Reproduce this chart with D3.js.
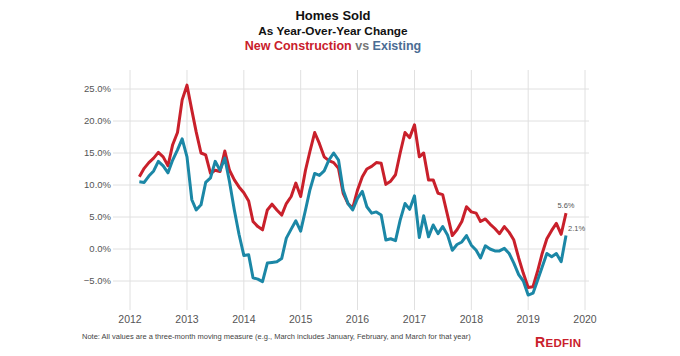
<!DOCTYPE html>
<html>
<head>
<meta charset="utf-8">
<script src="https://cdn.jsdelivr.net/npm/d3@7"></script>
<style>
  html, body { margin: 0; padding: 0; background: #fff; }
  svg { display: block; font-family: "Liberation Sans", Arial, sans-serif; }
</style>
</head>
<body>
<svg id="chart" width="680" height="356"></svg>
<script>
// ---- Data (3-month moving YoY change, %), monthly from Mar 2012 to Sep 2019 ----
const startYear = 2012, startMonth = 2; // March 2012 (0-based month)
const newConstruction = [
  11.3, 12.6, 13.5, 14.2, 15.1, 14.4, 13.0, 16.3, 18.2, 23.3,
  25.6, 21.7, 18.3, 15.0, 14.7, 11.8, 12.3, 12.1, 15.3, 12.3,
  10.8, 9.7, 8.8, 7.5, 4.3, 3.5, 3.0, 6.1, 7.0, 6.1,
  5.3, 7.1, 8.2, 10.3, 8.2, 12.3, 15.2, 18.2, 16.5, 14.4,
  13.8, 13.5, 12.6, 8.7, 7.1, 6.4, 9.2, 11.3, 12.5, 12.9,
  13.5, 13.4, 10.1, 10.6, 11.6, 15.0, 18.2, 17.4, 19.4, 14.4,
  15.0, 10.8, 10.8, 8.7, 8.5, 5.3, 2.1, 3.0, 4.3, 6.6,
  5.8, 5.6, 4.3, 4.7, 3.9, 3.2, 2.4, 3.5, 2.6, 1.4,
  -1.4, -3.8, -6.0, -5.9, -3.6, -0.7, 1.6, 2.9, 4.0, 2.3,
  5.6
];
const existing = [
  10.5, 10.4, 11.4, 12.2, 13.7, 13.0, 11.9, 13.9, 15.5, 17.2,
  14.4, 7.7, 6.1, 6.9, 10.4, 11.1, 13.7, 12.3, 14.2, 10.5,
  6.1, 2.3, -1.0, -0.9, -4.5, -4.7, -5.1, -2.2, -2.1, -2.0,
  -1.5, 1.7, 3.1, 4.4, 2.8, 6.1, 9.2, 11.8, 11.5, 12.2,
  13.9, 15.0, 13.9, 9.2, 7.1, 6.1, 7.9, 9.0, 6.6, 5.6,
  5.8, 5.3, 1.4, 1.6, 1.3, 4.5, 7.1, 6.2, 8.3, 1.8,
  5.2, 1.9, 3.75, 2.4, 3.5, 2.2, -0.2, 0.7, 1.1, 2.1,
  0.6, -0.2, -1.4, 0.5, 0.0, -0.3, -0.3, 0.1, -0.7, -2.2,
  -4.0, -5.0, -7.2, -6.9, -5.0, -2.8, -0.7, -1.2, -0.7, -2.0,
  2.1
];
const yTicks = [-5, 0, 5, 10, 15, 20, 25];
const xTickYears = [2012, 2013, 2014, 2015, 2016, 2017, 2018, 2019, 2020];
const endLabels = ["5.6%", "2.1%"];
const titleLines = ["Homes Sold", "As Year-Over-Year Change"];
const noteText = "Note: All values are a three-month moving measure (e.g., March includes January, February, and March for that year)";

// ---- Build ----
const dates = newConstruction.map((_, i) => new Date(startYear, startMonth + i, 1));
const seriesNew = newConstruction.map((v, i) => ({ date: dates[i], v }));
const seriesEx = existing.map((v, i) => ({ date: dates[i], v }));

const svg = d3.select("#chart");
const RED = "#c9202b", TEAL = "#1b87a6", SLATE = "#4b6d94";

const x = d3.scaleTime()
  .domain([new Date(2012, 0, 1), new Date(2020, 0, 1)])
  .range([130, 585]);
const y = d3.scaleLinear().domain([-5, 25]).range([281, 89]);

const gridTop = 70, gridBottom = 310, gridLeft = 113, gridRight = 589;

// Vertical grid
svg.append("g").selectAll("line")
  .data(xTickYears).join("line")
  .attr("x1", d => x(new Date(d, 0, 1))).attr("x2", d => x(new Date(d, 0, 1)))
  .attr("y1", gridTop).attr("y2", gridBottom)
  .attr("stroke", "#e0e0e0").attr("stroke-width", 1);

// Horizontal grid
svg.append("g").selectAll("line")
  .data(yTicks).join("line")
  .attr("x1", gridLeft).attr("x2", gridRight)
  .attr("y1", d => y(d)).attr("y2", d => y(d))
  .attr("stroke", "#e0e0e0").attr("stroke-width", 1);

// Y labels
svg.append("g").selectAll("text")
  .data(yTicks).join("text")
  .attr("x", 111).attr("y", d => y(d))
  .attr("dy", "0.35em")
  .attr("text-anchor", "end")
  .attr("font-size", 9.5)
  .attr("fill", "#555")
  .text(d => d3.format(".1f")(d) + "%");

// X labels
svg.append("g").selectAll("text")
  .data(xTickYears).join("text")
  .attr("x", d => x(new Date(d, 0, 1))).attr("y", 323)
  .attr("text-anchor", "middle")
  .attr("font-size", 10.5)
  .attr("fill", "#555")
  .text(d => d);

// Lines
const line = d3.line().x(d => x(d.date)).y(d => y(d.v));
svg.append("path").datum(seriesNew)
  .attr("d", line).attr("fill", "none")
  .attr("stroke", RED).attr("stroke-width", 3).attr("stroke-linejoin", "round");
svg.append("path").datum(seriesEx)
  .attr("d", line).attr("fill", "none")
  .attr("stroke", TEAL).attr("stroke-width", 3).attr("stroke-linejoin", "round");

// End labels
const lastN = seriesNew[seriesNew.length - 1];
const lastE = seriesEx[seriesEx.length - 1];
svg.append("text")
  .attr("x", x(lastN.date)).attr("y", y(lastN.v) - 5)
  .attr("text-anchor", "middle").attr("font-size", 7.5).attr("fill", "#555")
  .text(endLabels[0]);
svg.append("text")
  .attr("x", x(lastE.date) + 2).attr("y", y(lastE.v) - 5)
  .attr("text-anchor", "start").attr("font-size", 7.5).attr("fill", "#555")
  .text(endLabels[1]);

// Titles
svg.append("text").attr("x", 333).attr("y", 19.5)
  .attr("text-anchor", "middle").attr("font-size", 13).attr("font-weight", "bold")
  .attr("fill", "#111").text(titleLines[0]);
svg.append("text").attr("x", 333).attr("y", 34.5)
  .attr("text-anchor", "middle").attr("font-size", 11.8).attr("font-weight", "bold")
  .attr("fill", "#111").text(titleLines[1]);
const t3 = svg.append("text").attr("x", 333).attr("y", 49.5)
  .attr("text-anchor", "middle").attr("font-size", 12.5).attr("font-weight", "bold");
t3.append("tspan").attr("fill", RED).text("New Construction");
t3.append("tspan").attr("fill", "#777").text(" vs ");
t3.append("tspan").attr("fill", SLATE).text("Existing");

// Note
svg.append("text").attr("x", 82).attr("y", 338.5)
  .attr("font-size", 7.5).attr("fill", "#444").text(noteText);

// Logo
const logo = svg.append("text").attr("x", 535).attr("y", 346.5)
  .attr("font-weight", "bold").attr("fill", RED).attr("letter-spacing", 0.3);
logo.append("tspan").attr("font-size", 14).text("R");
logo.append("tspan").attr("font-size", 11.5).text("EDFIN");
</script>
</body>
</html>
